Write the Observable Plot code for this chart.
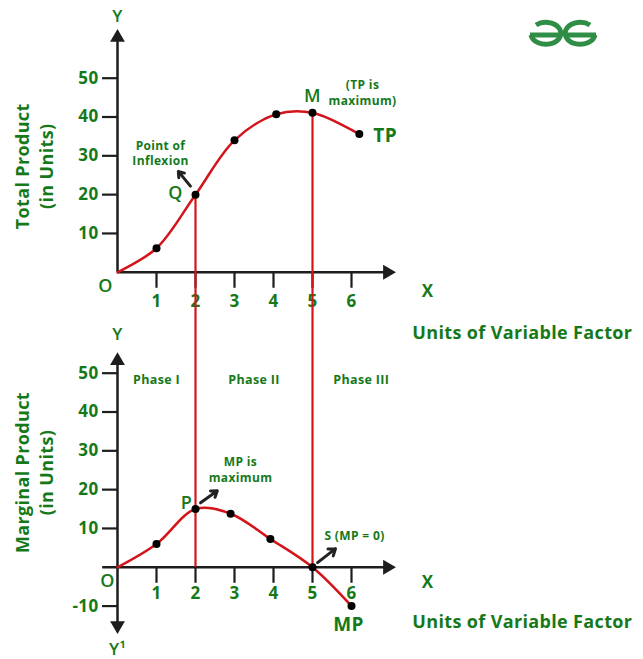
<!DOCTYPE html>
<html>
<head>
<meta charset="utf-8">
<script src="https://cdn.jsdelivr.net/npm/d3@7"></script>
<script src="https://cdn.jsdelivr.net/npm/@observablehq/plot@0.6"></script>
<style>
  body { margin: 0; background: #fff; }
  #wrap { position: relative; width: 643px; height: 659px; overflow: hidden; }
  #logo { position: absolute; left: 0; top: 0; }
  #wrap svg text { letter-spacing: 0.35px; }
</style>
</head>
<body>
<div id="wrap">
  <svg id="logo" width="643" height="70">
    <g fill="none" stroke="#2f8d46" stroke-width="5">
      <path d="M530,35 H560 M536,25 A15 11 0 1 1 531,35" />
      <path d="M596,35 H566 M590,25 A15 11 0 1 0 595,35" />
    </g>
  </svg>
</div>
<script>
// ---- data ----
const unitTicks = [1, 2, 3, 4, 5, 6];          // units of variable factor
const tpTicks = [10, 20, 30, 40, 50];          // TP axis ticks
const mpTicks = [-10, 10, 20, 30, 40, 50];     // MP axis ticks
const tpUnits = [0, 1, 2, 3, 4.07, 5, 6.2];    // TP curve points (x)
const tpValues = [0, 6.2, 20, 34, 40.7, 41.1, 35.6];
const mpUnits = [0, 1, 2, 2.9, 3.92, 5, 6];    // MP curve points (x)
const mpValues = [0, 6, 15, 13.8, 7.3, 0, -10];
const phaseNames = ["Phase I", "Phase II", "Phase III"];
const phaseBounds = [0, 2, 5, 7.5];           // stage boundaries (x)
const panels = ["TP", "MP"];

// ---- style ----
const green = "#15791a";
const dark = "#1d1d1d";
const red = "#d3141b";
const font = "'Open Sans', Lato, sans-serif";
const yDomain = [-15, 61];

const tp = tpUnits.map((x, i) => ({panel: "TP", x, y: tpValues[i]}));
const mp = mpUnits.map((x, i) => ({panel: "MP", x, y: mpValues[i]}));

const yTickData = [
  ...tpTicks.map(v => ({panel: "TP", v})),
  ...mpTicks.map(v => ({panel: "MP", v}))
];
const xTickData = panels.flatMap(panel => unitTicks.map(v => ({panel, v})));

const boundaries = phaseBounds.slice(1, 3);
const redRules = [
  ...boundaries.map(b => ({panel: "TP", x: b, y1: tpValues[tpUnits.indexOf(b)], y2: yDomain[0]})),
  ...boundaries.map(b => ({panel: "MP", x: b, y1: yDomain[1], y2: 0}))
];

const phaseData = phaseNames.map((name, i) => ({panel: "MP", name, x: (phaseBounds[i] + phaseBounds[i + 1]) / 2}));

// axis lines (extents of the drawn axes)
const yAxisLines = [{panel: "TP", y1: 0, y2: 60.5}, {panel: "MP", y1: -15, y2: 53.2}];
const xAxisLines = [{panel: "TP", x1: 0, x2: 6.92}, {panel: "MP", x1: -0.38, x2: 6.92}];
const arrowHeads = [
  {panel: "TP", x: 0, y: 60.5, r: 0},
  {panel: "TP", x: 6.92, y: 0, r: 90},
  {panel: "MP", x: 0, y: 53.2, r: 0},
  {panel: "MP", x: 6.92, y: 0, r: 90},
  {panel: "MP", x: 0, y: -15, r: 180}
];

function note(panel, x, y, text, o = {}) {
  return Plot.text([{panel, x, y}], {
    x: "x", y: "y", fy: "panel", text: [text],
    fill: o.fill ?? green, fontSize: o.size ?? 12, fontWeight: o.weight ?? "bold",
    fontFamily: font, dx: o.dx ?? 0, dy: o.dy ?? 0,
    textAnchor: o.anchor ?? "middle", lineHeight: o.lh ?? 1.3, rotate: o.rotate ?? 0
  });
}

const smallArrows = [
  {panel: "TP", x1: 1.87, y1: 22.2, x2: 1.56, y2: 26},
  {panel: "MP", x1: 2.13, y1: 16.6, x2: 2.56, y2: 19.7},
  {panel: "MP", x1: 5.13, y1: 1.2, x2: 5.59, y2: 4.8}
];

const chart = Plot.plot({
  width: 643,
  height: 659,
  marginLeft: 117,
  marginRight: 253,
  marginTop: 34,
  marginBottom: 34,
  style: {background: "transparent", fontFamily: font},
  x: {domain: [0, 7], axis: null},
  y: {domain: yDomain, axis: null},
  fy: {domain: panels, axis: null, padding: 0},
  marks: [
    // axes
    Plot.ruleX(yAxisLines, {x: 0, y1: "y1", y2: "y2", fy: "panel", stroke: dark, strokeWidth: 2.5}),
    Plot.ruleY(xAxisLines, {y: 0, x1: "x1", x2: "x2", fy: "panel", stroke: dark, strokeWidth: 2.5}),
    Plot.dot(arrowHeads, {x: "x", y: "y", fy: "panel", symbol: "triangle", r: 5.5, fill: dark, stroke: "none", rotate: "r"}),
    Plot.ruleY(yTickData, {y: "v", x1: 0, x2: 0, insetLeft: -15, fy: "panel", stroke: dark, strokeWidth: 2.2}),
    Plot.ruleX(xTickData, {x: "v", y1: 0, y2: 0, insetBottom: -16, fy: "panel", stroke: dark, strokeWidth: 2.2}),
    Plot.text(yTickData, {x: 0, y: "v", fy: "panel", text: d => String(d.v), dx: -19, textAnchor: "end", fill: green, fontSize: 17, fontWeight: "bold", fontFamily: font}),
    Plot.text(xTickData.filter(d => d.panel === "TP"), {x: "v", y: 0, fy: "panel", text: d => String(d.v), dy: 29, fill: green, fontSize: 17, fontWeight: "bold", fontFamily: font}),
    Plot.text(xTickData.filter(d => d.panel === "MP"), {x: "v", y: 0, fy: "panel", text: d => String(d.v), dy: 26, fill: green, fontSize: 17, fontWeight: "bold", fontFamily: font}),
    // axis letters
    note("TP", 0, 0, "O", {dx: -12, dy: 12, size: 18, weight: 600}),
    note("MP", 0, 0, "O", {dx: -10, dy: 12, size: 18, weight: 600}),
    note("TP", 0, 60.5, "Y", {dy: -23, size: 17, weight: 600}),
    note("MP", 0, 53.2, "Y", {dy: -28, size: 17, weight: 600}),
    note("MP", 0, -15, "Y¹", {dy: 22, size: 17, weight: 600}),
    note("TP", 7.95, 0, "X", {dy: 18, size: 17}),
    note("MP", 7.95, 0, "X", {dy: 14, size: 17}),
    note("TP", 7.56, 0, "Units of Variable Factor", {dy: 59, size: 18, anchor: "start"}),
    note("MP", 7.56, 0, "Units of Variable Factor", {dy: 53, size: 18, anchor: "start"}),
    note("TP", 0, 27.3, "Total Product\n(in Units)", {dx: -84, size: 18, rotate: -90, lh: 1.3}),
    note("MP", 0, 24.4, "Marginal Product\n(in Units)", {dx: -84, size: 18, rotate: -90, lh: 1.3}),
    // phases
    Plot.text(phaseData, {x: "x", y: 48.3, fy: "panel", text: "name", fill: green, fontSize: 12.5, fontWeight: "bold", fontFamily: font}),
    // red stage boundaries
    Plot.ruleX(redRules, {x: "x", y1: "y1", y2: "y2", fy: "panel", stroke: red, strokeWidth: 2.2}),
    // curves
    Plot.line(tp, {x: "x", y: "y", fy: "panel", curve: "catmull-rom", stroke: red, strokeWidth: 2.5}),
    Plot.line(mp, {x: "x", y: "y", fy: "panel", curve: "catmull-rom", stroke: red, strokeWidth: 2.5}),
    Plot.dot(tp.slice(1), {x: "x", y: "y", fy: "panel", r: 4, fill: "#000", stroke: "none"}),
    Plot.dot(mp.slice(1), {x: "x", y: "y", fy: "panel", r: 4, fill: "#000", stroke: "none"}),
    // small arrows
    Plot.arrow(smallArrows, {x1: "x1", y1: "y1", x2: "x2", y2: "y2", fy: "panel", stroke: "#222", strokeWidth: 3, headLength: 9, headAngle: 70}),
    // annotations
    note("TP", 5, 41.1, "M", {dy: -18, size: 18, weight: 600}),
    note("TP", 5, 41.1, "(TP is\nmaximum)", {dx: 50, dy: -21}),
    note("TP", 6.2, 35.6, "TP", {dx: 14, size: 19, anchor: "start"}),
    note("TP", 2, 20, "Point of\nInflexion", {dx: -35, dy: -42}),
    note("TP", 2, 20, "Q", {dx: -20, dy: -3, size: 18, weight: 600}),
    note("MP", 2, 15, "P", {dx: -9, dy: -8, size: 18, weight: 600}),
    note("MP", 2, 15, "MP is\nmaximum", {dx: 45, dy: -40}),
    note("MP", 5, 0, "S (MP = 0)", {dx: 42, dy: -32}),
    note("MP", 6, -10, "MP", {dx: -3, dy: 17, size: 19})
  ]
});
document.getElementById("wrap").prepend(chart);
</script>
</body>
</html>
